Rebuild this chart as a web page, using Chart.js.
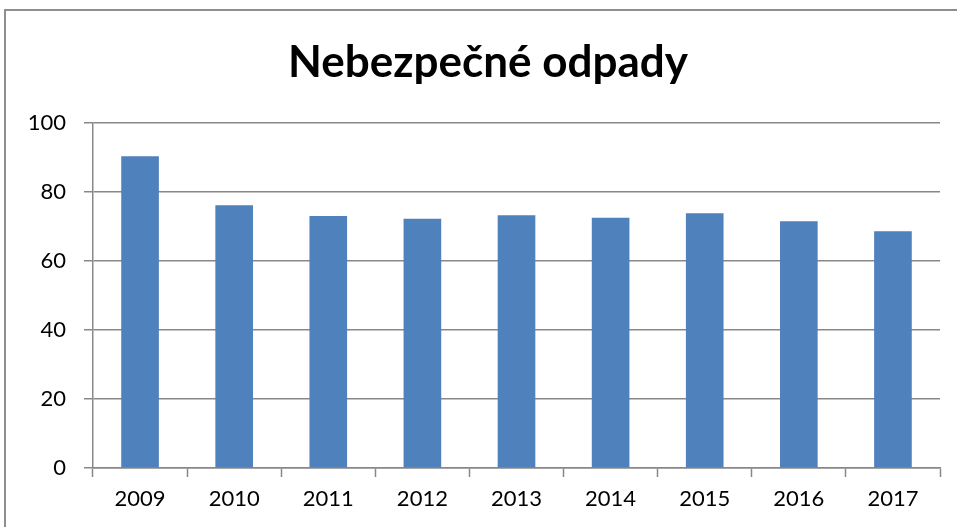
<!DOCTYPE html>
<html>
<head>
<meta charset="utf-8">
<script src="https://cdn.jsdelivr.net/npm/chart.js@4"></script>
<style>
    html, body { margin: 0; padding: 0; background: #fff; overflow: hidden; }
    .frame { position: absolute; left: 4px; top: 9px; width: 960px; height: 600px; border: 2px solid #8e8e8e; box-sizing: border-box; }
    .wrap { position: absolute; left: 0; top: 0; width: 957px; height: 527px; }
</style>
</head>
<body>
<div class="frame"></div>
<div class="wrap"><canvas id="wasteChart"></canvas></div>
<script>
const years = ['2009', '2010', '2011', '2012', '2013', '2014', '2015', '2016', '2017'];
const hazardousWaste = [90.3, 76.1, 73.0, 72.2, 73.2, 72.5, 73.8, 71.5, 68.6];
const yTicks = [0, 20, 40, 60, 80, 100];

const fontFamily = "Lato, 'Open Sans', sans-serif";

// nudge the title so it is centred on the outer frame, not the canvas
const titleShift = {
    id: 'titleShift',
    afterLayout: function(chart) {
        if (chart.titleBlock) {
            chart.titleBlock.left += 36;
        }
    }
};

document.addEventListener('DOMContentLoaded', function() {
    const ctx = document.getElementById('wasteChart').getContext('2d');
    new Chart(ctx, {
        type: 'bar',
        data: {
            labels: years,
            datasets: [{
                label: 'Nebezpečné odpady',
                data: hazardousWaste,
                backgroundColor: '#4f81bd',
                borderWidth: 0,
                barPercentage: 0.4,
                categoryPercentage: 1
            }]
        },
        options: {
            responsive: true,
            maintainAspectRatio: false,
            animation: false,
            layout: {
                padding: { left: 0, right: 17, top: 0, bottom: 0 }
            },
            plugins: {
                legend: { display: false },
                tooltip: { enabled: false },
                title: {
                    display: true,
                    text: 'Nebezpečné odpady',
                    color: '#000',
                    font: { family: fontFamily, size: 44, weight: 'bold', lineHeight: 1.2 },
                    padding: { top: 36, bottom: 34 }
                }
            },
            scales: {
                x: {
                    grid: {
                        offset: true,
                        drawOnChartArea: false,
                        drawTicks: true,
                        tickLength: 9,
                        tickColor: '#888',
                        tickWidth: 1.5
                    },
                    border: { display: true, color: '#888', width: 1.5 },
                    ticks: {
                        color: '#000',
                        padding: 9,
                        font: { family: fontFamily, size: 22 }
                    },
                    afterFit: function(scale) { scale.height = 59; }
                },
                y: {
                    min: 0,
                    max: 100,
                    afterBuildTicks: function(scale) {
                        scale.ticks = yTicks.map(v => ({ value: v }));
                    },
                    grid: {
                        color: '#888',
                        lineWidth: 1.5,
                        drawTicks: true,
                        tickLength: 9
                    },
                    border: { display: true, color: '#888', width: 1.5 },
                    ticks: {
                        color: '#000',
                        padding: 18,
                        font: { family: fontFamily, size: 22 }
                    },
                    afterFit: function(scale) { scale.width = 93; }
                }
            }
        },
        plugins: [titleShift]
    });
});
</script>
</body>
</html>
